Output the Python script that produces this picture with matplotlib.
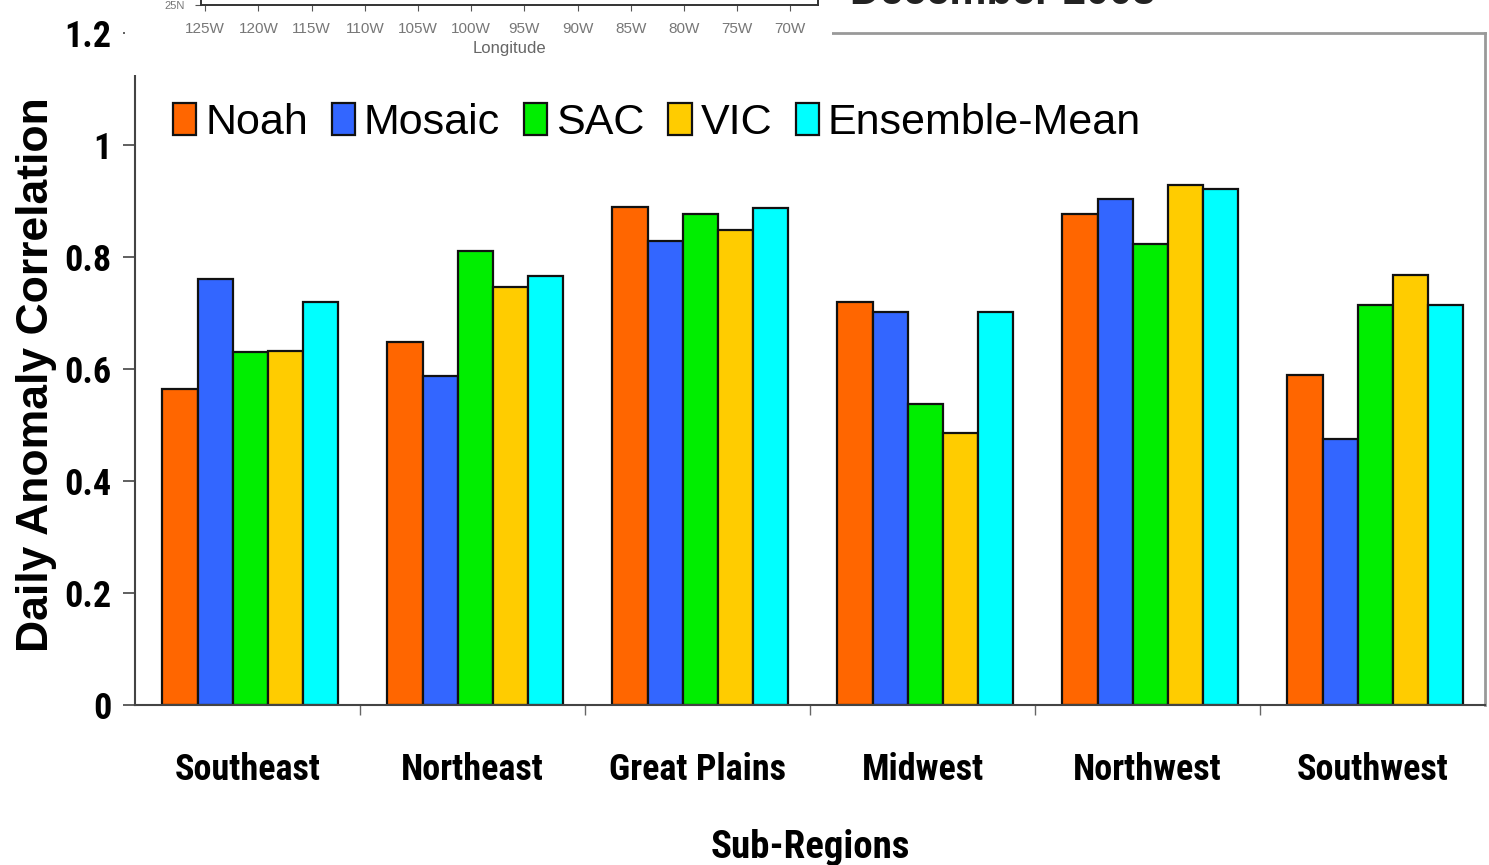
import numpy as np
import matplotlib
matplotlib.use("Agg")
import matplotlib.pyplot as plt
from matplotlib.patches import Rectangle
from matplotlib import font_manager
from matplotlib.font_manager import FontProperties

# data
regions = ["Southeast", "Northeast", "Great Plains", "Midwest", "Northwest", "Southwest"]
models = ["Noah", "Mosaic", "SAC", "VIC", "Ensemble-Mean"]
noah = [0.564, 0.649, 0.889, 0.720, 0.877, 0.590]
mosaic = [0.760, 0.588, 0.829, 0.701, 0.903, 0.475]
sac = [0.631, 0.810, 0.876, 0.538, 0.824, 0.715]
vic = [0.632, 0.747, 0.848, 0.486, 0.928, 0.768]
ens = [0.720, 0.766, 0.888, 0.701, 0.922, 0.715]
colors = ["#FF6600", "#3366FF", "#00EE00", "#FFCC00", "#00FFFF"]

yticks = [0, 0.2, 0.4, 0.6, 0.8, 1, 1.2]
ytick_labels = ["0", "0.2", "0.4", "0.6", "0.8", "1", "1.2"]
lon_ticks = [-125, -120, -115, -110, -105, -100, -95, -90, -85, -80, -75, -70]
lon_labels = ["125W", "120W", "115W", "110W", "105W", "100W", "95W", "90W", "85W", "80W", "75W", "70W"]


def find_font(keys):
    # look for a condensed bold face by file name
    files = [f.fname for f in font_manager.fontManager.ttflist]
    for k in keys:
        for f in files:
            if k.lower() in f.lower().replace(" ", ""):
                return f
    return None


cond_file = find_font(["LiberationSansNarrow-Bold.", "RobotoCondensed-Bold.", "DejaVuSansCondensed-Bold.",
                       "OpenSans_Condensed-Bold", "OpenSansCondensed-Bold", "Roboto_Condensed-Bold"])


def cond(size):
    if cond_file:
        return FontProperties(fname=cond_file, size=size)
    return FontProperties(family="Liberation Sans", weight="bold", size=size)


plain = "Liberation Sans"

W, H = 1489, 865
fig = plt.figure(figsize=(W / 100, H / 100), dpi=100)


def px(x0, y0, x1, y1):
    # pixel box (top-left origin) -> figure rect
    return [x0 / W, 1 - y1 / H, (x1 - x0) / W, (y1 - y0) / H]


ax = fig.add_axes(px(135, 33, 1485, 705))

series = [noah, mosaic, sac, vic, ens]
x = np.arange(len(regions))
bw = 0.156
for i, (vals, c, m) in enumerate(zip(series, colors, models)):
    ax.bar(x + (i - 2) * bw + 0.012, vals, bw, color=c, edgecolor="#111111",
           linewidth=1.6, label=m, zorder=2)

ax.set_xlim(-0.5, 5.5)
ax.set_ylim(0, 1.2)
ax.set_yticks(yticks)
ax.set_yticklabels(ytick_labels, fontproperties=cond(26))
ax.tick_params(axis="y", length=9, width=1.2, color="#444444", pad=8)

ax.set_xticks(x)
ax.set_xticklabels(regions, fontproperties=cond(26))
ax.tick_params(axis="x", which="major", length=0, pad=34)
ax.set_xticks(np.arange(0.5, 5.5, 1), minor=True)
ax.tick_params(axis="x", which="minor", length=7, width=1, color="#666666", direction="out")

for s in ["left", "bottom"]:
    ax.spines[s].set_color("#444444")
    ax.spines[s].set_linewidth(1.5)
for s in ["top", "right"]:
    ax.spines[s].set_color("#999999")
    ax.spines[s].set_linewidth(2)

ax.set_ylabel("Daily Anomaly Correlation", fontfamily=plain, fontweight="bold", fontsize=32)
ax.yaxis.label.set_va("center")
ax.yaxis.set_label_coords(-0.0726, 0.491)
ax.set_xlabel("Sub-Regions", fontproperties=cond(28))
ax.xaxis.label.set_va("center")
ax.xaxis.set_label_coords(0.5, -0.212)

ax.legend(loc="center left", bbox_to_anchor=(0.028, 0.866), ncol=5, frameon=False,
          prop={"family": plain, "size": 31}, handlelength=0.55, handleheight=0.75,
          handletextpad=0.2, columnspacing=0.55, borderaxespad=0, borderpad=0)

# piece of the map panel that overlaps the top of the chart
cover = Rectangle((125 / W, 1 - 75 / H), (832 - 125) / W, 75 / H, transform=fig.transFigure,
                  facecolor="white", edgecolor="none", zorder=5)
fig.add_artist(cover)

mx = fig.add_axes(px(201, -80, 818, 5))
mx.set_zorder(6)
mx.set_facecolor("white")
mx.set_xlim(-125.4, -67.4)
mx.set_ylim(25, 50)
mx.set_xticks(lon_ticks)
mx.set_xticklabels(lon_labels, fontfamily=plain, fontsize=11, color="#777777")
mx.set_yticks([25])
mx.set_yticklabels(["25N"], fontfamily=plain, fontsize=8, color="#777777")
mx.tick_params(length=4, width=0.8, color="#555555", pad=8)
mx.set_xlabel("Longitude", fontfamily=plain, fontsize=12, color="#666666", labelpad=4)
mx.spines["top"].set_visible(False)
for s in ["left", "right", "bottom"]:
    mx.spines[s].set_color("#333333")
    mx.spines[s].set_linewidth(1.4)

fig.text(850 / W, 1 - 4 / H, "December 2003", fontfamily=plain, fontweight="bold",
         fontsize=30, va="baseline", ha="left", color="#222222", zorder=7)

fig.savefig("out.png", dpi=100)
